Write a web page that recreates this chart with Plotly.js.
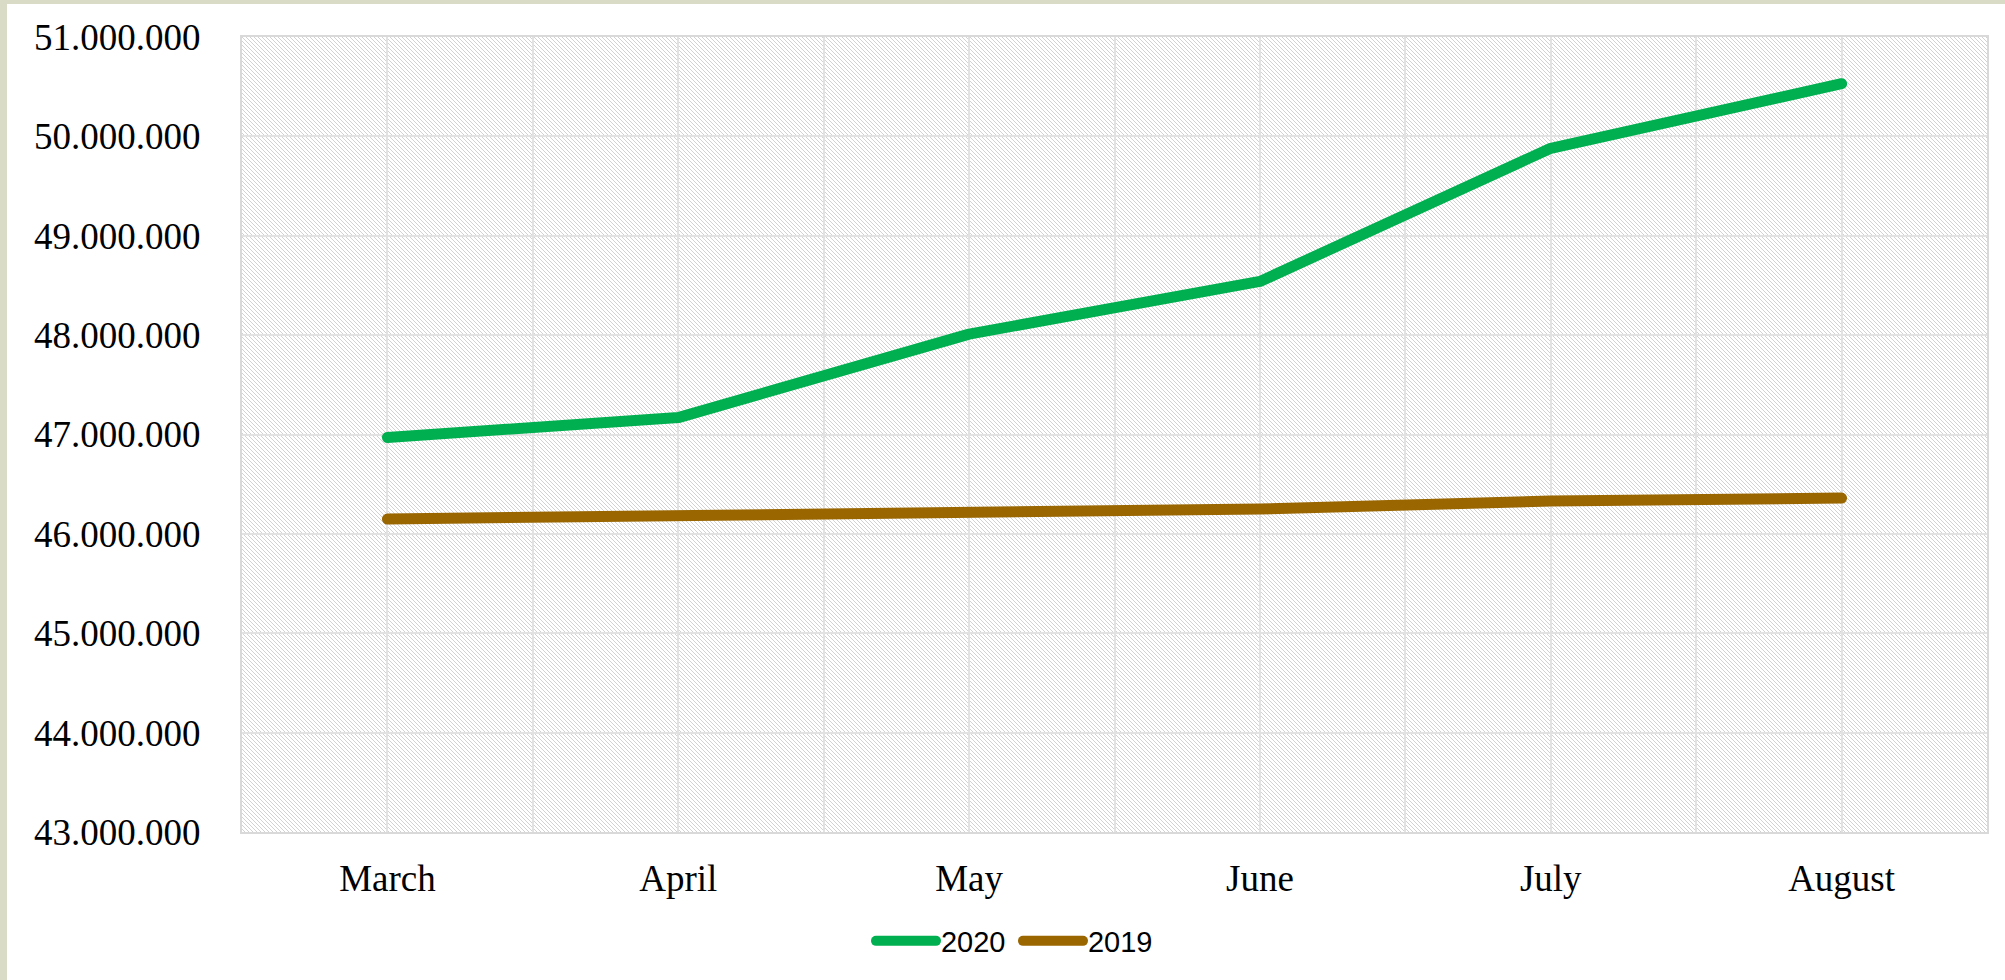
<!DOCTYPE html>
<html>
<head>
<meta charset="utf-8">
<script src="https://cdn.plot.ly/plotly-3.0.1.min.js"></script>
<style>
  html, body { margin: 0; padding: 0; background: #dadbc7; width: 2005px; height: 980px; overflow: hidden; }
  #chart { position: absolute; left: 7px; top: 4px; width: 1998px; height: 976px; background: #ffffff; }
  #chart .js-line { stroke-linecap: round !important; stroke-linejoin: round !important; }
  #chart .legendlines path { stroke-linecap: round !important; }
</style>
</head>
<body>
<div id="chart"></div>
<script>
// ---- data ----
const months = ["March", "April", "May", "June", "July", "August"];
const series2020 = [46970000, 47170000, 48010000, 48540000, 49880000, 50530000];
const series2019 = [46150000, 46180000, 46220000, 46250000, 46330000, 46360000];
const seriesNames = ["2020", "2019"];
const yTickStart = 43000000;
const yTickEnd = 51000000;
const yTickStep = 1000000;

// ---- styling ----
const colors = ["#00b050", "#996600"];
const W = 1998, H = 976;
const M = { l: 235, r: 18, t: 33, b: 148 };
const PW = W - M.l - M.r, PH = H - M.t - M.b;

// diagonal hatch background for the plot area
function hatchSvg(w, h) {
  let px = '';
  for (let i = 0; i < 4; i++) px += `<rect x='${i}' y='${i}' width='1' height='1' fill='#d2d2d2'/>`;
  const svg = `<svg xmlns='http://www.w3.org/2000/svg' width='${w}' height='${h}' viewBox='0 0 ${w} ${h}' preserveAspectRatio='none' shape-rendering='crispEdges'>` +
    `<defs><pattern id='p' width='4' height='4' patternUnits='userSpaceOnUse'>${px}</pattern></defs>` +
    `<rect x='0' y='0' width='${w}' height='${h}' fill='#ffffff'/><rect x='0' y='0' width='${w}' height='${h}' fill='url(#p)'/></svg>`;
  return 'data:image/svg+xml;charset=utf-8,' + encodeURIComponent(svg);
}

const idx = months.map((m, i) => i);
const traces = [series2020, series2019].map((vals, k) => ({
  type: 'scatter',
  mode: 'lines',
  name: seriesNames[k],
  x: idx,
  y: vals,
  line: { color: colors[k], width: 11 },
  hoverinfo: 'skip'
}));

const layout = {
  width: W,
  height: H,
  margin: M,
  paper_bgcolor: '#ffffff',
  plot_bgcolor: '#ffffff',
  separators: ',.',
  showlegend: true,
  font: { family: '"Liberation Serif", "Times New Roman", serif', size: 37, color: '#000000' },
  xaxis: {
    range: [-0.5, months.length - 0.5],
    tickmode: 'array',
    tickvals: idx,
    ticktext: months,
    ticks: '',
    showgrid: true,
    gridcolor: '#e2e2e2',
    gridwidth: 2,
    minor: {
      tickmode: 'linear',
      tick0: -0.5,
      dtick: 1,
      ticks: '',
      showgrid: true,
      gridcolor: '#e2e2e2',
      gridwidth: 2
    },
    showline: true,
    mirror: true,
    linecolor: '#d9d9d9',
    linewidth: 2,
    zeroline: false,
    ticklabelstandoff: 13,
    tickfont: { family: '"Liberation Serif", "Times New Roman", serif', size: 37, color: '#000000' },
    fixedrange: true
  },
  yaxis: {
    range: [yTickStart, yTickEnd],
    tickmode: 'linear',
    tick0: yTickStart,
    dtick: yTickStep,
    tickformat: ',.0f',
    ticks: '',
    showgrid: true,
    gridcolor: '#e2e2e2',
    gridwidth: 2,
    showline: true,
    mirror: true,
    linecolor: '#d9d9d9',
    linewidth: 2,
    zeroline: false,
    ticklabelstandoff: 32,
    tickfont: { family: '"Liberation Serif", "Times New Roman", serif', size: 37, color: '#000000' },
    fixedrange: true
  },
  legend: {
    orientation: 'h',
    xref: 'container',
    yref: 'container',
    x: 0.506,
    xanchor: 'center',
    y: 1 - (941 - 4) / H,
    yanchor: 'middle',
    itemwidth: 60,
    entrywidth: 72,
    entrywidthmode: 'pixels',
    font: { family: '"Liberation Sans", Arial, sans-serif', size: 29, color: '#000000' },
    bgcolor: 'rgba(0,0,0,0)'
  },
  images: [{
    source: hatchSvg(PW, PH),
    xref: 'paper', yref: 'paper',
    x: 0, y: 1, sizex: 1, sizey: 1,
    xanchor: 'left', yanchor: 'top',
    sizing: 'stretch',
    layer: 'below'
  }]
};

Plotly.newPlot('chart', traces, layout, { displayModeBar: false, staticPlot: true });
</script>
</body>
</html>
